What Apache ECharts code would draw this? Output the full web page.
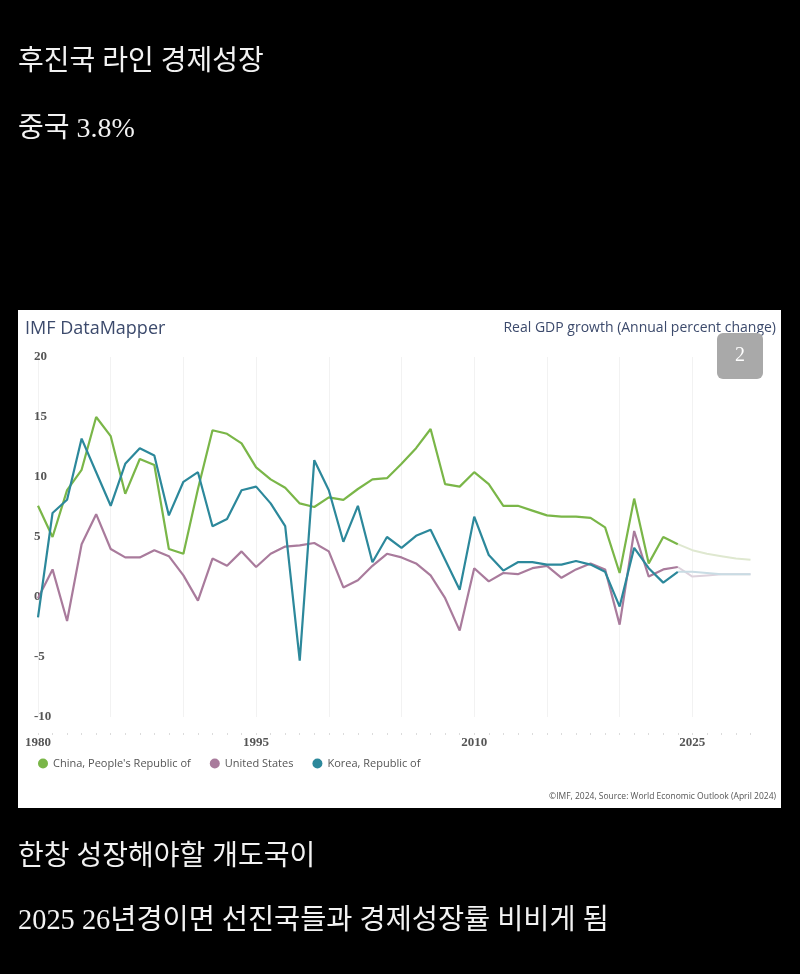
<!DOCTYPE html>
<html>
<head>
<meta charset="utf-8">
<script src="https://cdn.jsdelivr.net/npm/echarts@6/dist/echarts.min.js"></script>
<style>
  html, body { margin: 0; padding: 0; background: #000; }
  #chart { width: 800px; height: 974px; }
</style>
</head>
<body>
<div id="chart"></div>
<script>
// ---- data ----
const years = [1980,1981,1982,1983,1984,1985,1986,1987,1988,1989,
               1990,1991,1992,1993,1994,1995,1996,1997,1998,1999,
               2000,2001,2002,2003,2004,2005,2006,2007,2008,2009,
               2010,2011,2012,2013,2014,2015,2016,2017,2018,2019,
               2020,2021,2022,2023,2024,2025,2026,2027,2028,2029];
const xTickLabels = ['1980','1995','2010','2025'];
const yTickLabels = [-10, -5, 0, 5, 10, 15, 20];

// actuals 1980-2024
const china = [7.6,5.0,8.9,10.6,15.0,13.4,8.6,11.5,11.0,4.0,
               3.6,9.0,13.9,13.6,12.8,10.8,9.8,9.1,7.8,7.5,
               8.3,8.1,9.0,9.8,9.9,11.1,12.4,14.0,9.4,9.2,
               10.4,9.4,7.6,7.6,7.2,6.8,6.7,6.7,6.6,5.8,
               2.0,8.2,2.8,5.0,4.4];
const us    = [-0.1,2.3,-2.0,4.4,6.9,4.0,3.3,3.3,3.9,3.4,
               1.8,-0.3,3.2,2.6,3.8,2.5,3.6,4.2,4.3,4.5,
               3.8,0.8,1.4,2.6,3.6,3.3,2.8,1.8,-0.1,-2.8,
               2.4,1.3,2.0,1.9,2.4,2.6,1.6,2.3,2.8,2.3,
               -2.3,5.5,1.7,2.3,2.5];
const korea = [-1.7,7.0,8.1,13.2,10.4,7.6,11.1,12.4,11.8,6.8,
               9.6,10.4,5.9,6.5,8.9,9.2,7.8,5.9,-5.3,11.4,
               8.9,4.6,7.6,2.9,5.0,4.1,5.1,5.6,3.1,0.6,
               6.7,3.5,2.2,2.9,2.9,2.7,2.7,3.0,2.7,2.1,
               -0.8,4.1,2.4,1.2,2.1];
// projections 2024-2029
const projYears  = [2024,2025,2026,2027,2028,2029];
const chinaProj  = [4.4,3.9,3.6,3.4,3.2,3.1];
const usProj     = [2.5,1.7,1.8,1.9,1.9,1.9];
const koreaProj  = [2.1,2.1,2.0,1.9,1.9,1.9];

const names = ["China, People's Republic of", 'United States', 'Korea, Republic of'];
const colors = ['#7ab648', '#a97b9c', '#2c889b'];
const projColors = ['#dfe8d0', '#ddd2dc', '#c9dce4'];

function proj(vals) {
  return years.map(y => {
    const i = projYears.indexOf(y);
    return i >= 0 ? vals[i] : null;
  });
}

const chart = echarts.init(document.getElementById('chart'), null, { renderer: 'canvas' });

const krFont = '"Liberation Serif", "Noto Sans CJK KR", serif';
const uiFont = '"Open Sans", "Noto Sans", sans-serif';

function txt(x, y, text, font, fill, align, z) {
  return { type: 'text', x: x, y: y, z: z || 10,
    style: { text: text, font: font, fill: fill, align: align || 'left', verticalAlign: 'middle' } };
}

const option = {
  backgroundColor: '#000',
  animation: false,
  graphic: [
    { type: 'rect', x: 18, y: 310, shape: { width: 763, height: 498 }, style: { fill: '#fff' }, z: -10 },
    txt(18, 63, '후진국 라인 경제성장', '28px ' + krFont, '#f2f2f2'),
    txt(18, 130, '중국 3.8%', '28px ' + krFont, '#f2f2f2'),
    txt(18, 858, '한창 성장해야할 개도국이', '28px ' + krFont, '#f2f2f2'),
    txt(18, 922, '2025 26년경이면 선진국들과 경제성장률 비비게 됨', '28.4px ' + krFont, '#f2f2f2'),
    txt(25, 329, 'IMF DataMapper', '18px ' + uiFont, '#3c4a6c'),
    txt(776, 328, 'Real GDP growth (Annual percent change)', '14px ' + uiFont, '#3c4a6c', 'right'),
    txt(776, 797, '©IMF, 2024, Source: World Economic Outlook (April 2024)', '8.5px ' + uiFont, '#555', 'right'),
    { type: 'rect', x: 717, y: 333, shape: { width: 46, height: 46, r: 6 }, style: { fill: '#a9a9a9' }, z: 100 },
    txt(740, 356, '2', '20px "Liberation Serif", serif', '#fff', 'center', 101)
  ],
  legend: {
    data: names,
    left: 33,
    top: 753,
    icon: 'circle',
    itemWidth: 10,
    itemHeight: 10,
    itemGap: 19,
    textStyle: { fontSize: 11, color: '#555', fontFamily: uiFont }
  },
  grid: { left: 38, right: 49.5, top: 357, bottom: 257, containLabel: false },
  xAxis: {
    type: 'category',
    data: years.map(String),
    boundaryGap: false,
    offset: 16,
    axisLine: { show: false, onZero: false },
    axisTick: { show: true, interval: 0, length: 2, lineStyle: { color: '#dcdcdc' } },
    axisLabel: {
      interval: 0,
      formatter: v => xTickLabels.includes(v) ? v : '',
      margin: 3,
      fontFamily: '"Liberation Serif", serif',
      fontWeight: 'bold',
      fontSize: 13,
      color: '#555'
    },
    splitLine: {
      show: true,
      interval: (i, v) => (Number(v) - 1980) % 5 === 0,
      lineStyle: { color: '#f2f2f2', width: 1 }
    }
  },
  yAxis: {
    type: 'value',
    min: -10,
    max: 20,
    interval: 5,
    axisLine: { show: false },
    axisTick: { show: false },
    splitLine: { show: false },
    axisLabel: {
      margin: 4,
      align: 'left',
      formatter: v => yTickLabels.includes(v) ? String(v) : '',
      fontFamily: '"Liberation Serif", serif',
      fontWeight: 'bold',
      fontSize: 13,
      color: '#555'
    }
  },
  series: [
    { name: names[0] + ' proj', type: 'line', data: proj(chinaProj), symbol: 'none', lineStyle: { color: projColors[0], width: 2 }, itemStyle: { color: projColors[0] }, z: 1 },
    { name: names[1] + ' proj', type: 'line', data: proj(usProj), symbol: 'none', lineStyle: { color: projColors[1], width: 2 }, itemStyle: { color: projColors[1] }, z: 1 },
    { name: names[2] + ' proj', type: 'line', data: proj(koreaProj), symbol: 'none', lineStyle: { color: projColors[2], width: 2 }, itemStyle: { color: projColors[2] }, z: 1 },
    { name: names[0], type: 'line', data: china, symbol: 'none', lineStyle: { color: colors[0], width: 2.2 }, itemStyle: { color: colors[0] }, z: 3 },
    { name: names[1], type: 'line', data: us, symbol: 'none', lineStyle: { color: colors[1], width: 2.2 }, itemStyle: { color: colors[1] }, z: 3 },
    { name: names[2], type: 'line', data: korea, symbol: 'none', lineStyle: { color: colors[2], width: 2.2 }, itemStyle: { color: colors[2] }, z: 3 }
  ]
};

chart.setOption(option);
</script>
</body>
</html>
